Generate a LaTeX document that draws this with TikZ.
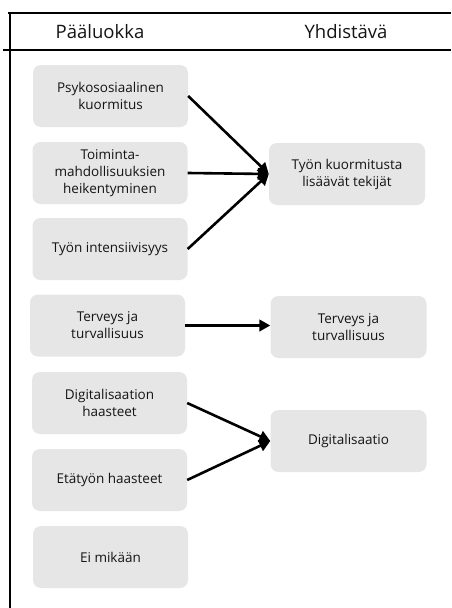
\documentclass[tikz,border=0pt]{standalone}
\usepackage{fontspec}
\setmainfont{Open Sans}
\usetikzlibrary{arrows.meta}
\definecolor{boxgray}{HTML}{E6E6E6}
\definecolor{ink}{HTML}{141414}
\tikzset{
  catbox/.style={rectangle, rounded corners=8pt, fill=boxgray, draw=none,
    minimum width=155pt, minimum height=62pt, align=center, text=ink,
    font=\fontsize{13.5}{17}\selectfont, inner sep=2pt},
  headtxt/.style={text=ink, font=\fontsize{18.5}{22}\selectfont},
  link/.style={line width=2.6pt, draw=black,
    -{Triangle[length=11pt,width=11.5pt]}},
  frame/.style={draw=black}
}
\begin{document}
\begin{tikzpicture}[x=1pt,y=-1pt]
  \useasboundingbox (0,0) rectangle (451,608);
  \fill[white] (0,0) rectangle (451,608);

  % table frame: top rule, header rule, left rule
  \coordinate (tl) at (8,12.8);
  \coordinate (tr) at (451,12.8);
  \coordinate (hl) at (3,50);
  \coordinate (hr) at (451,50);
  \coordinate (lt) at (10,11.8);
  \coordinate (bl) at (10,608);
  \draw[frame, line width=2pt] (tl) -- (tr);
  \draw[frame, line width=1.4pt] (hl) -- (hr);
  \draw[frame, line width=2.6pt] (lt) -- (bl);

  % column headings
  \node[headtxt] (h1) at (100,32) {Pääluokka};
  \node[headtxt] (h2) at (346,32) {Yhdistävä};

  % main categories
  \node[catbox] (a1) at (110.5,96) {Psykososiaalinen\\kuormitus};
  \node[catbox] (a2) at (110,173) {Toiminta-\\mahdollisuuksien\\heikentyminen};
  \node[catbox] (a3) at (110,249) {Työn intensiivisyys};
  \node[catbox] (a4) at (107.5,325.5) {Terveys ja\\turvallisuus};
  \node[catbox] (a5) at (109.5,403) {Digitalisaation\\haasteet};
  \node[catbox] (a6) at (109.5,480) {Etätyön haasteet};
  \node[catbox] (a7) at (110.5,557) {Ei mikään};

  % combined categories
  \node[catbox, minimum width=156pt] (b1) at (347,174) {Työn kuormitusta\\lisäävät tekijät};
  \node[catbox, minimum width=156pt] (b2) at (348.5,327) {Terveys ja\\turvallisuus};
  \node[catbox, minimum width=156pt] (b3) at (348.5,441) {Digitalisaatio};

  % connectors
  \draw[link] (a1.east) -- (b1.west);
  \draw[link] (a2.east) -- (b1.west);
  \draw[link] (a3.east) -- (b1.west);
  \draw[link] (a4.east) -- (a4.east -| b2.west);
  \draw[link] (a5.east) -- (b3.west);
  \draw[link] (a6.east) -- (b3.west);
\end{tikzpicture}
\end{document}
